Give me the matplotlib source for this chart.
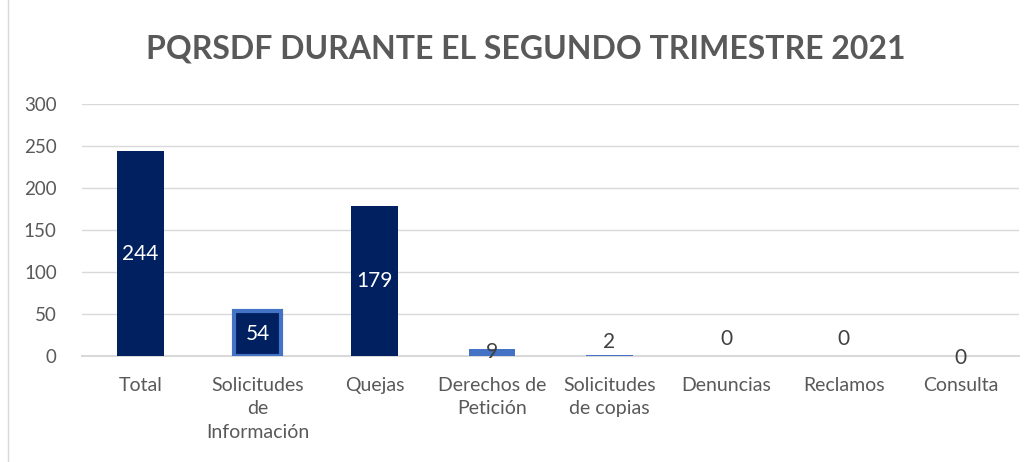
import matplotlib
matplotlib.use("Agg")
import matplotlib.pyplot as plt
from matplotlib.patches import Rectangle

categories = ["Total", "Solicitudes\nde\nInformación", "Quejas", "Derechos de\nPetición",
              "Solicitudes\nde copias", "Denuncias", "Reclamos", "Consulta"]
values = [244, 54, 179, 9, 2, 0, 0, 0]
label_y = [244 / 2, 54 / 2, 179 / 2, 4.5, 17, 20, 20, -2]
yticks = [0, 50, 100, 150, 200, 250, 300]
title = "PQRSDF DURANTE EL SEGUNDO TRIMESTRE 2021"

navy = "#002060"
blue = "#4472C4"
fills = [navy, navy, navy, blue, blue, blue, blue, blue]
edges = [navy, blue, navy, blue, blue, blue, blue, blue]
lws = [0, 3, 0, 0, 0, 0, 0, 0]
label_colors = ["white", "white", "white", "#404040", "#404040", "#404040", "#404040", "#404040"]

plt.rcParams['font.family'] = ['Lato', 'DejaVu Sans']

fig = plt.figure(figsize=(10.35, 4.62), dpi=100)
fig.patches.append(Rectangle((0.008, -0.01), 0.995, 1.02, transform=fig.transFigure,
                             fill=False, edgecolor="#D9D9D9", linewidth=1))
ax = fig.add_axes([0.079, 0.229, 0.906, 0.545])

x = list(range(len(categories)))
ax.bar(x, values, width=0.4, color=fills, edgecolor=edges, linewidth=lws, zorder=3)
for xi, v, ly, c in zip(x, values, label_y, label_colors):
    ax.text(xi, ly, str(v), ha="center", va="center", fontsize=15, color=c, zorder=4)

ax.set_ylim(0, 300)
ax.set_xlim(-0.5, len(categories) - 0.5)
ax.set_yticks(yticks)
ax.set_yticklabels([str(t) for t in yticks], fontsize=13.5, color="#595959")
ax.set_xticks(x)
ax.set_xticklabels(categories, fontsize=14, color="#595959", linespacing=1.45, va="top")
ax.tick_params(axis="both", length=0)
ax.tick_params(axis="x", pad=15)
ax.tick_params(axis="y", pad=18)
ax.grid(axis="y", color="#D9D9D9", linewidth=1, zorder=0)
for s in ["top", "right", "left"]:
    ax.spines[s].set_visible(False)
ax.spines["bottom"].set_color("#D9D9D9")
ax.spines["bottom"].set_linewidth(1.5)

fig.text(0.508, 0.895, title, ha="center", va="center", fontsize=23, fontweight="bold", color="#595959")

fig.savefig("out.png", dpi=100)
